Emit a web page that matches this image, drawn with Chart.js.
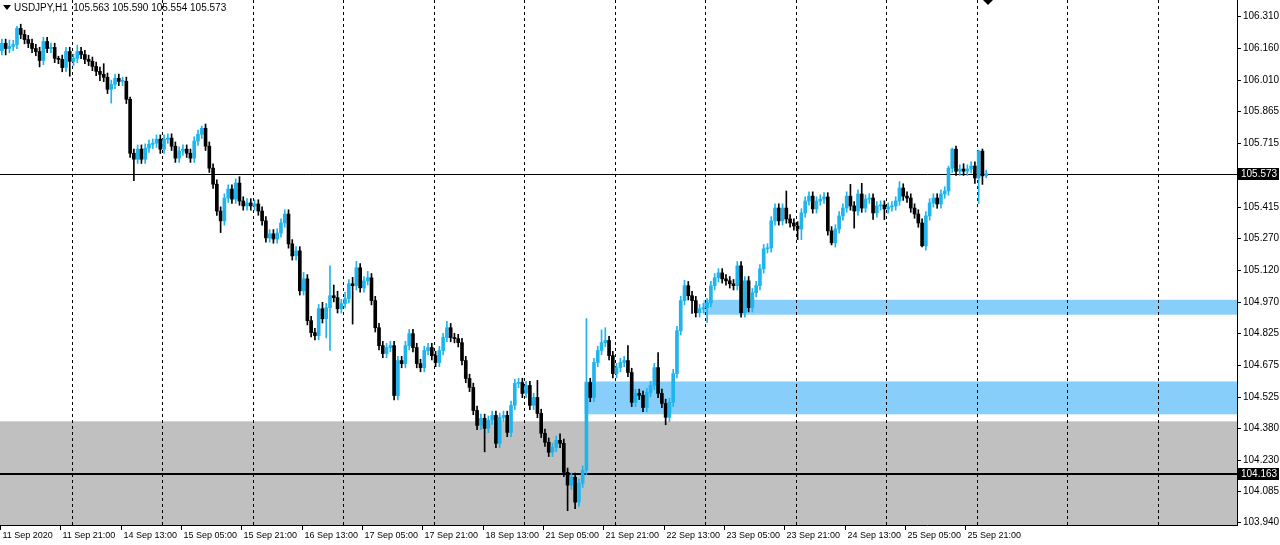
<!DOCTYPE html>
<html>
<head>
<meta charset="utf-8">
<script src="https://cdn.jsdelivr.net/npm/chart.js@4.4.0/dist/chart.umd.min.js"></script>
<style>
  html, body { margin: 0; padding: 0; background: #fff; }
  canvas { display: block; }
</style>
</head>
<body>
<canvas id="grafico" width="1280" height="545"></canvas>
<script>
// USDJPY H1 closes (one value per hourly bar)
const closes = [
  106.184,106.160,106.170,106.179,106.254,106.226,106.202,106.184,106.160,106.146,
  106.104,106.193,106.160,106.165,106.114,106.109,106.071,106.146,106.100,106.114,
  106.146,106.132,106.109,106.100,106.076,106.053,106.039,106.025,105.969,105.992,
  106.020,106.006,106.006,105.922,105.669,105.641,105.688,105.641,105.693,105.711,
  105.716,105.735,105.688,105.735,105.740,105.702,105.646,105.679,105.688,105.669,
  105.646,105.726,105.758,105.786,105.702,105.599,105.524,105.398,105.352,105.459,
  105.501,105.454,105.529,105.445,105.422,105.436,105.422,105.431,105.398,105.352,
  105.272,105.291,105.267,105.295,105.342,105.384,105.244,105.188,105.211,105.024,
  105.080,104.884,104.828,104.814,104.940,104.893,104.945,105.001,104.992,104.940,
  104.964,104.987,105.057,105.048,105.132,105.038,105.071,105.085,104.978,104.851,
  104.767,104.730,104.758,104.767,104.533,104.697,104.683,104.767,104.823,104.758,
  104.683,104.664,104.744,104.758,104.720,104.688,104.744,104.805,104.851,104.805,
  104.800,104.781,104.697,104.613,104.571,104.463,104.393,104.426,104.379,104.417,
  104.440,104.309,104.431,104.440,104.360,104.487,104.590,104.594,104.543,104.580,
  104.487,104.524,104.449,104.356,104.314,104.267,104.290,104.323,104.309,104.173,
  104.113,104.150,104.033,104.122,104.183,104.594,104.524,104.688,104.744,104.781,
  104.791,104.720,104.636,104.664,104.688,104.697,104.641,104.501,104.543,104.534,
  104.477,104.547,104.580,104.664,104.543,104.496,104.431,104.501,104.636,104.837,
  104.978,105.048,105.001,104.978,104.921,104.940,104.945,104.968,105.048,105.085,
  105.108,105.080,105.071,105.057,105.048,105.141,104.921,105.071,104.945,105.015,
  105.048,105.127,105.221,105.225,105.352,105.412,105.352,105.412,105.361,105.342,
  105.328,105.314,105.389,105.445,105.468,105.408,105.445,105.454,105.464,105.305,
  105.249,105.314,105.375,105.412,105.468,105.422,105.398,105.478,105.412,105.454,
  105.459,105.389,105.422,105.426,105.408,105.417,105.422,105.445,105.506,105.468,
  105.459,105.412,105.384,105.342,105.235,105.375,105.436,105.459,105.431,105.478,
  105.492,105.599,105.688,105.585,105.595,105.585,105.595,105.609,105.553,105.679,
  105.563,105.573
];
const firstOpen = 106.150;

// wick lengths above / below the body (price units)
const upWick = [
  .02,.02,.03,.02,.01,.02,.02,.02,.02,.02, .02,.02,.02,.02,.02,.01,.02,.02,.02,.02,
  .03,.02,.02,.02,.02,.02,.02,.05,.02,.02, .02,.02,.02,.02,.01,.02,.02,.02,.02,.02,
  .02,.02,.02,.02,.02,.02,.02,.02,.02,.02, .02,.02,.02,.01,.02,.02,.02,.02,.02,.02,
  .02,.02,.02,.03,.02,.02,.02,.02,.02,.02, .02,.02,.02,.02,.02,.02,.02,.02,.02,.02,
  .03,.02,.02,.02,.02,.03,.02,.14,.05,.03, .02,.03,.02,.03,.03,.02,.02,.03,.02,.02,
  .02,.02,.02,.02,.02,.02,.02,.02,.02,.02, .02,.02,.02,.02,.02,.02,.02,.02,.03,.02,
  .02,.02,.02,.02,.02,.02,.02,.02,.02,.02, .02,.02,.02,.02,.02,.02,.02,.02,.02,.02,
  .02,.02,.08,.02,.02,.02,.02,.02,.03,.02, .02,.02,.02,.02,.02,.30,.02,.02,.02,.06,
  .06,.02,.02,.02,.02,.02,.07,.02,.02,.02, .02,.02,.02,.02,.07,.02,.02,.02,.02,.02,
  .02,.025,.02,.02,.02,.02,.02,.02,.02,.02, .02,.02,.02,.02,.02,.02,.02,.02,.02,.02,
  .02,.02,.02,.02,.02,.02,.02,.02,.08,.02, .02,.02,.02,.02,.02,.02,.02,.02,.02,.02,
  .02,.02,.02,.02,.02,.055,.02,.02,.05,.02, .02,.02,.02,.02,.02,.02,.02,.02,.03,.02,
  .02,.02,.02,.02,.02,.02,.02,.02,.02,.02, .02,.01,.005,.015,.02,.025,.02,.02,.02,.005,
  .01,.017
];
const downWick = [
  .02,.03,.02,.02,.02,.02,.02,.02,.02,.02, .03,.02,.02,.02,.02,.02,.02,.02,.07,.02,
  .02,.02,.02,.02,.02,.02,.03,.02,.02,.065, .02,.02,.02,.02,.02,.10,.02,.02,.02,.02,
  .02,.02,.02,.02,.02,.02,.02,.02,.02,.02, .02,.02,.02,.02,.02,.02,.02,.02,.055,.02,
  .02,.02,.02,.02,.02,.02,.02,.02,.02,.02, .02,.02,.02,.02,.02,.02,.02,.02,.02,.02,
  .02,.02,.02,.02,.02,.02,.09,.20,.02,.02, .02,.02,.02,.18,.02,.02,.02,.02,.02,.02,
  .02,.02,.02,.02,.02,.02,.02,.02,.02,.02, .02,.02,.02,.02,.02,.02,.02,.02,.02,.02,
  .02,.02,.02,.02,.02,.02,.02,.02,.11,.02, .02,.02,.02,.02,.02,.02,.02,.02,.02,.02,
  .02,.02,.02,.02,.02,.02,.02,.02,.02,.02, .12,.02,.03,.02,.02,.02,.02,.02,.02,.02,
  .02,.02,.02,.02,.02,.02,.02,.02,.02,.02, .02,.02,.02,.02,.02,.02,.035,.02,.02,.02,
  .02,.02,.02,.06,.02,.02,.02,.07,.02,.02, .02,.02,.02,.02,.02,.02,.02,.02,.02,.02,
  .02,.02,.02,.02,.02,.02,.02,.02,.02,.02, .02,.05,.05,.02,.02,.02,.02,.02,.02,.02,
  .01,.02,.02,.02,.02,.02,.08,.02,.02,.02, .02,.03,.02,.02,.05,.02,.02,.02,.02,.02,
  .02,.02,.02,.02,.005,.02,.02,.02,.02,.02, .02,.02,.02,.02,.02,.02,.02,.02,.025,.12,
  .04,.009
];

const totalSlots = 328; // bars that fit in the window (incl. empty space on the right)
const priceTicks = [106.310,106.160,106.010,105.865,105.715,105.415,105.270,105.120,
                    104.970,104.825,104.675,104.525,104.380,104.230,104.085,103.940];
const timeLabels = ['11 Sep 2020','11 Sep 21:00','14 Sep 13:00','15 Sep 05:00','15 Sep 21:00',
  '16 Sep 13:00','17 Sep 05:00','17 Sep 21:00','18 Sep 13:00','21 Sep 05:00','21 Sep 21:00',
  '22 Sep 13:00','23 Sep 05:00','23 Sep 21:00','24 Sep 13:00','25 Sep 05:00','25 Sep 21:00'];
const labelEvery = 16;
const daySeparators = [18.5,42.5,66.5,90.5,114.5,138.5,162.5,186.5,210.5,234.5,258.5,282.5,306.5];

// zones: [fromBar, top price, bottom price, colour]
const zones = [
  [0, 104.412, 103.90, '#c0c0c0'],
  [154.5, 104.599, 104.445, '#87cefa'],
  [186, 104.982, 104.912, '#87cefa']
];
const hLines = [[105.573, 1], [104.163, 2]];

const bull = '#1fb4ee', bear = '#000000';

let opens = closes.map((c, i) => i === 0 ? firstOpen : closes[i - 1]);
let labels = Array.from({length: totalSlots}, (_, i) => String(i));
let colors = closes.map((c, i) => c >= opens[i] ? bull : bear);
let bodies = closes.map((c, i) => [Math.min(c, opens[i]), Math.max(c, opens[i])]);
let wicks = closes.map((c, i) => [Math.min(c, opens[i]) - downWick[i], Math.max(c, opens[i]) + upWick[i]]);

const fam = '"Liberation Sans", Arial, sans-serif';
const font = '10px ' + fam;
const timeFont = '9px ' + fam;

const decor = {
  id: 'decor',
  beforeDatasetsDraw(chart) {
    const {ctx, chartArea: a, scales: {x, y}} = chart;
    ctx.save();
    zones.forEach(z => {
      let x0 = z[0] === 0 ? a.left : x.getPixelForValue(z[0]);
      let y0 = y.getPixelForValue(z[1]), y1 = Math.min(y.getPixelForValue(z[2]), a.bottom);
      ctx.fillStyle = z[3];
      ctx.fillRect(x0, y0, a.right - x0, y1 - y0);
    });
    ctx.strokeStyle = '#000';
    ctx.lineWidth = 1;
    ctx.setLineDash([3, 3]);
    daySeparators.forEach(d => {
      let px = Math.round(x.getPixelForValue(d)) + 0.5;
      ctx.beginPath(); ctx.moveTo(px, 0); ctx.lineTo(px, a.bottom); ctx.stroke();
    });
    ctx.setLineDash([]);
    hLines.forEach(h => {
      let py = Math.round(y.getPixelForValue(h[0])) + (h[1] === 1 ? 0.5 : 0);
      ctx.lineWidth = h[1];
      ctx.beginPath(); ctx.moveTo(a.left, py); ctx.lineTo(a.right, py); ctx.stroke();
    });
    ctx.restore();
  },
  afterDraw(chart) {
    const {ctx, chartArea: a, scales: {x, y}} = chart;
    ctx.save();
    ctx.strokeStyle = '#000';
    ctx.lineWidth = 1;
    ctx.beginPath(); ctx.moveTo(a.left, a.bottom + 0.5); ctx.lineTo(a.right, a.bottom + 0.5); ctx.stroke();
    ctx.beginPath(); ctx.moveTo(a.right + 0.5, 0); ctx.lineTo(a.right + 0.5, a.top); ctx.stroke();
    ctx.font = timeFont;
    ctx.fillStyle = '#000';
    ctx.textBaseline = 'middle';
    timeLabels.forEach((t, k) => {
      let px = Math.round(x.getPixelForValue(k * labelEvery - 0.5)) + 0.5;
      ctx.beginPath(); ctx.moveTo(px, a.bottom); ctx.lineTo(px, a.bottom + 5); ctx.stroke();
      ctx.fillText(t, px + 2, a.bottom + 11);
    });
    ctx.font = font;
    // price tags on the axis
    hLines.forEach(h => {
      let py = Math.round(y.getPixelForValue(h[0]));
      ctx.fillStyle = '#000';
      ctx.fillRect(a.right + 1, py - 6, 41, 12);
      ctx.fillStyle = '#fff';
      ctx.fillText(h[0].toFixed(3), a.right + 4, py);
    });
    // header
    ctx.fillStyle = '#000';
    ctx.beginPath(); ctx.moveTo(3, 5); ctx.lineTo(11, 5); ctx.lineTo(7, 10); ctx.fill();
    ctx.fillText('USDJPY,H1  105.563 105.590 105.554 105.573', 14, 8);
    // small marker at top
    ctx.beginPath(); ctx.moveTo(983, 0); ctx.lineTo(993, 0); ctx.lineTo(988, 5); ctx.fill();
    ctx.restore();
  }
};

const ctx = document.getElementById('grafico').getContext('2d');

const myChart = new Chart(ctx, {
  type: 'bar',
  data: {
    labels: labels,
    datasets: [
      { data: bodies, backgroundColor: colors, barThickness: 3, minBarLength: 1, grouped: false },
      { data: wicks, backgroundColor: colors, barThickness: 1, grouped: false }
    ]
  },
  options: {
    responsive: false,
    animation: false,
    devicePixelRatio: 1,
    layout: { padding: { top: 0, bottom: 20, left: 0, right: 0 } },
    plugins: { legend: { display: false }, tooltip: { enabled: false } },
    scales: {
      x: { display: false },
      y: {
        position: 'right',
        min: 103.926,
        max: 106.350,
        afterBuildTicks: s => { s.ticks = priceTicks.map(v => ({value: v})); },
        afterFit: s => { s.width = 43; },
        grid: { drawOnChartArea: false, tickLength: 4, color: '#000' },
        border: { color: '#000' },
        ticks: {
          color: '#000',
          padding: 2,
          font: { family: fam, size: 10 },
          callback: v => v.toFixed(3)
        }
      }
    }
  },
  plugins: [decor]
});
</script>
</body>
</html>
